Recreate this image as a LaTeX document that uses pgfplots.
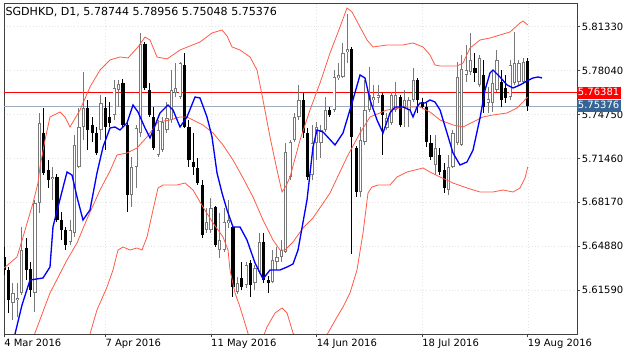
\documentclass[border=0pt]{standalone}
\usepackage{pgfplots}
\pgfplotsset{compat=1.18}
\usepackage{pgfplotstable}
\usepackage{fontspec}
\setmainfont{DejaVu Sans}
\definecolor{bandred}{RGB}{255,90,70}
\definecolor{mablue}{RGB}{0,0,255}
\definecolor{linered}{RGB}{255,0,0}
\definecolor{linegray}{RGB}{160,172,188}
\definecolor{boxblue}{RGB}{52,101,150}
\definecolor{bullgray}{RGB}{120,120,120}

\pgfplotstableread{
i o h l c
3 5.60624 5.62123 5.59350 5.61374
4 5.60849 5.62123 5.59575 5.60999
5 5.61374 5.66320 5.61224 5.64596
8 5.61374 5.68343 5.59950 5.68118
9 5.68118 5.74863 5.67369 5.74113
12 5.69917 5.70816 5.68343 5.70067
16 5.65196 5.66844 5.64971 5.66095
17 5.65870 5.73214 5.65570 5.72465
18 5.70816 5.75237 5.70741 5.73814
19 5.73814 5.77935 5.72839 5.75237
23 5.73589 5.76212 5.72839 5.75612
26 5.74713 5.77336 5.74338 5.76736
27 5.76586 5.77336 5.75312 5.77036
30 5.68718 5.71565 5.67818 5.70816
31 5.70816 5.73964 5.69242 5.73739
32 5.73364 5.80858 5.73064 5.80034
36 5.71715 5.74338 5.71565 5.73589
37 5.72090 5.74563 5.71940 5.74188
38 5.73589 5.75687 5.73364 5.74488
39 5.74338 5.78085 5.74113 5.76586
40 5.76362 5.78610 5.76062 5.76736
41 5.76062 5.78685 5.75912 5.78610
47 5.66095 5.67743 5.65870 5.66694
48 5.66095 5.68493 5.65870 5.67743
50 5.64596 5.67369 5.63996 5.65345
51 5.64596 5.67743 5.64446 5.66694
52 5.66619 5.68343 5.66245 5.66844
54 5.61449 5.62573 5.61299 5.62123
56 5.61973 5.63697 5.61748 5.63472
58 5.62123 5.63472 5.61598 5.63247
59 5.62947 5.65870 5.62797 5.65196
62 5.62198 5.64596 5.62123 5.63847
63 5.63697 5.64821 5.63097 5.64071
64 5.64071 5.65345 5.63697 5.64596
65 5.64446 5.72615 5.64371 5.71940
66 5.70067 5.72839 5.69842 5.72690
67 5.72839 5.74863 5.72690 5.74563
68 5.74563 5.76961 5.74338 5.75837
71 5.70217 5.73964 5.69842 5.72615
72 5.72615 5.74188 5.71341 5.73814
73 5.72615 5.73964 5.71491 5.73589
74 5.73589 5.76062 5.73439 5.75088
76 5.75088 5.78085 5.74938 5.77561
77 5.77486 5.78610 5.77336 5.77711
78 5.77561 5.80109 5.77486 5.79359
79 5.79434 5.82282 5.78610 5.79659
82 5.68943 5.73814 5.68568 5.72839
83 5.72690 5.77336 5.72465 5.75088
84 5.75088 5.78310 5.74938 5.76212
85 5.75837 5.76961 5.75312 5.76062
86 5.75987 5.76961 5.75612 5.76212
88 5.73739 5.74863 5.73589 5.74488
89 5.74113 5.76437 5.73964 5.76212
90 5.75088 5.77186 5.74938 5.76212
92 5.75312 5.76586 5.73814 5.75837
93 5.75088 5.76062 5.73814 5.75837
94 5.75837 5.78235 5.75687 5.77336
99 5.70966 5.73214 5.70217 5.72240
102 5.69092 5.71715 5.68718 5.70816
103 5.70816 5.73589 5.70741 5.73364
104 5.72615 5.78685 5.72465 5.77561
105 5.72465 5.79209 5.72390 5.78160
106 5.77711 5.79959 5.77186 5.78085
107 5.77935 5.80858 5.77711 5.78835
109 5.76961 5.79209 5.76811 5.78984
111 5.75612 5.76811 5.74863 5.75912
112 5.75612 5.78085 5.74938 5.77111
113 5.76586 5.79584 5.76437 5.78835
116 5.76062 5.78835 5.75837 5.78460
117 5.77111 5.80933 5.76961 5.78610
118 5.77186 5.78835 5.76961 5.78610
119 5.77186 5.78984 5.77111 5.78685
}\bulltab

\pgfplotstableread{
i o h l c
1 5.64071 5.64821 5.62723 5.63097
2 5.63097 5.63322 5.59875 5.60849
6 5.64746 5.65495 5.62348 5.63097
7 5.63172 5.63697 5.61074 5.61598
10 5.73364 5.75237 5.70217 5.70366
11 5.70591 5.71341 5.69242 5.69842
13 5.70067 5.70291 5.66694 5.66844
14 5.66844 5.67444 5.65345 5.66095
15 5.66095 5.66320 5.64596 5.64971
20 5.75237 5.75837 5.72090 5.73589
21 5.73964 5.74563 5.72690 5.73364
22 5.73364 5.73814 5.71715 5.71865
24 5.75237 5.76062 5.72090 5.73814
25 5.74563 5.75687 5.73814 5.74113
28 5.77111 5.77411 5.73814 5.73964
29 5.73964 5.74338 5.67444 5.68718
33 5.80034 5.80184 5.76586 5.76736
34 5.76586 5.77111 5.74563 5.74713
35 5.74563 5.75312 5.72090 5.72240
42 5.78460 5.79359 5.73739 5.73814
43 5.73814 5.74338 5.70816 5.71341
44 5.71191 5.73364 5.70217 5.70816
45 5.70741 5.71491 5.69467 5.69617
46 5.69467 5.69842 5.65495 5.65720
49 5.67818 5.67900 5.64821 5.64971
53 5.66320 5.66470 5.61074 5.61823
55 5.62498 5.63697 5.61598 5.61823
57 5.63622 5.63847 5.61074 5.61973
60 5.65196 5.65870 5.62123 5.62348
61 5.62348 5.62648 5.61374 5.62123
69 5.75837 5.76362 5.72989 5.73364
70 5.73364 5.73739 5.69842 5.70067
75 5.75088 5.75312 5.74563 5.74713
80 5.79659 5.79809 5.64296 5.73064
81 5.72240 5.72390 5.68568 5.68943
87 5.76212 5.76362 5.71715 5.74713
91 5.76062 5.76212 5.73814 5.73964
95 5.77336 5.77486 5.74863 5.75837
96 5.75687 5.75987 5.75237 5.75312
97 5.75312 5.75612 5.72315 5.72690
98 5.72615 5.73214 5.71341 5.71565
100 5.71715 5.72240 5.70217 5.70441
101 5.70591 5.71116 5.68868 5.69242
108 5.78235 5.79359 5.77186 5.77860
110 5.77711 5.78835 5.74863 5.75312
114 5.77186 5.78085 5.75312 5.75837
115 5.76736 5.77711 5.75612 5.75987
120 5.78744 5.78956 5.75048 5.75376
}\beartab

\pgfplotstableread{
i p
0.98 5.63247
3.93 5.64071
5.30 5.65570
7.57 5.68118
8.70 5.69617
9.16 5.70816
10.30 5.72839
11.43 5.74563
13.70 5.74938
14.84 5.74563
15.98 5.73814
18.25 5.75088
20.52 5.76811
22.80 5.78085
25.07 5.78835
27.34 5.79059
29.16 5.78984
31.43 5.79809
33.02 5.80558
34.16 5.80333
35.75 5.79059
38.02 5.78910
40.98 5.79584
43.25 5.79884
45.52 5.80184
48.25 5.80858
50.52 5.81083
51.66 5.80633
52.80 5.79809
54.61 5.79584
56.89 5.79059
58.48 5.78085
59.84 5.75837
61.43 5.73064
63.02 5.70591
64.16 5.68943
65.07 5.69392
65.98 5.70067
68.25 5.72839
70.52 5.75088
72.80 5.77111
75.07 5.79359
77.34 5.81308
78.93 5.82732
80.07 5.82432
81.89 5.81308
83.48 5.80333
84.84 5.79809
88.02 5.79959
91.66 5.79959
93.93 5.80109
96.20 5.79809
97.80 5.79209
98.93 5.78460
100.07 5.78385
103.93 5.78385
105.30 5.78610
106.89 5.79734
109.16 5.80333
111.43 5.80483
113.70 5.80708
115.98 5.80933
118.25 5.81607
118.93 5.81757
120.00 5.81458
}\uppertab

\pgfplotstableread{
i p
6.50 5.57400
8.02 5.58376
11.43 5.61374
15.30 5.63847
17.57 5.65121
19.84 5.66919
22.80 5.69092
25.07 5.70516
26.66 5.71715
28.93 5.71865
31.20 5.72240
33.48 5.73064
35.98 5.74188
38.70 5.74338
40.98 5.74563
42.57 5.74563
43.93 5.74338
46.20 5.73964
48.48 5.73364
50.75 5.72465
53.02 5.71341
55.30 5.69992
57.57 5.68568
59.84 5.66844
62.11 5.65345
63.70 5.64596
64.84 5.64596
66.66 5.65196
68.93 5.66245
71.20 5.66994
75.07 5.68868
78.93 5.71565
81.89 5.73364
84.16 5.74563
88.02 5.75088
92.57 5.75312
95.52 5.75312
97.80 5.74938
100.07 5.74338
103.02 5.73964
105.30 5.73814
107.57 5.74188
109.84 5.74563
112.11 5.74713
115.30 5.74863
117.57 5.75237
120.00 5.76062
}\middletab

\pgfplotstableread{
i p
19.39 5.57477
20.52 5.58301
22.11 5.60100
24.39 5.61823
25.75 5.63097
26.89 5.64596
28.02 5.64821
29.61 5.64596
31.20 5.64746
32.34 5.64596
33.48 5.65570
34.84 5.67594
35.98 5.69242
37.11 5.69467
40.30 5.69467
42.11 5.69617
43.93 5.69092
46.20 5.67818
48.48 5.66619
50.75 5.65570
51.89 5.64596
52.34 5.63097
53.48 5.61374
54.61 5.60324
56.20 5.58601
56.89 5.57851
58.02 5.57102
59.61 5.57851
60.75 5.58826
62.57 5.59875
64.16 5.60250
65.30 5.59875
66.66 5.58376
68.25 5.57477
72.80 5.57477
74.61 5.58376
76.66 5.59575
78.02 5.60324
79.61 5.61374
81.20 5.63097
82.57 5.65870
83.70 5.68868
84.61 5.69317
85.98 5.69467
88.70 5.69467
90.30 5.70067
92.57 5.70441
94.39 5.70591
96.20 5.70741
97.80 5.70441
100.07 5.70067
103.02 5.69617
106.20 5.69242
109.16 5.68943
112.11 5.68943
114.39 5.69092
116.66 5.68943
118.25 5.69242
119.39 5.69992
120.00 5.70816
}\lowertab

\pgfplotstableread{
i p
2.80 5.57477
3.48 5.58301
5.07 5.60474
6.89 5.62348
9.84 5.62498
11.43 5.63322
12.11 5.66320
13.25 5.67818
15.30 5.70441
16.43 5.70217
17.57 5.68568
18.93 5.66844
20.52 5.67594
22.11 5.70366
23.48 5.72315
25.07 5.73739
26.20 5.73814
27.34 5.73589
28.93 5.74113
30.30 5.75462
31.43 5.74938
33.02 5.73739
34.16 5.72989
36.43 5.74863
38.25 5.75462
39.39 5.75088
40.98 5.73814
42.57 5.74563
44.39 5.76062
45.52 5.75987
47.11 5.74563
48.25 5.73064
49.39 5.70366
50.52 5.68868
51.66 5.67594
53.02 5.66320
54.61 5.66320
56.20 5.65345
58.02 5.63622
59.84 5.62423
61.43 5.63097
63.70 5.63097
65.30 5.63322
66.66 5.63547
67.80 5.64596
69.84 5.68343
71.20 5.72315
72.11 5.73589
73.48 5.73439
76.20 5.72465
78.02 5.73364
80.07 5.75612
81.89 5.77711
83.02 5.77486
84.16 5.75837
85.75 5.74338
87.11 5.73364
88.70 5.74863
89.84 5.75312
91.66 5.75312
93.25 5.75088
93.93 5.74563
94.84 5.75312
95.52 5.75612
96.66 5.75612
97.80 5.75837
98.93 5.75687
100.07 5.75088
101.66 5.73364
103.02 5.71865
104.61 5.70966
106.20 5.71191
107.57 5.72090
109.16 5.74488
110.30 5.76586
111.43 5.77860
112.11 5.78085
113.70 5.77561
115.30 5.76961
116.66 5.76736
118.25 5.76961
119.84 5.77261
121.20 5.77486
122.34 5.77561
123.25 5.77486
}\matab

\pgfplotsset{
  candle/.style n args={2}{draw=none, mark=none, forget plot,
    error bars/.cd, y dir=both, y explicit, error mark=none,
    error bar style={draw=#1, solid, line width=#2}},
}

\begin{document}
\begin{tikzpicture}[font=\fontsize{7.5}{9}\selectfont]
\path[use as bounding box] (-3pt,-13.5pt) rectangle (465.75pt,250.5pt);
\begin{axis}[
  at={(0,0)}, anchor=south west,
  scale only axis, width=429.75pt, height=248.25pt,
  xmin=0.977, xmax=131.2, ymin=5.58301, ymax=5.83106,
  axis line style={black!75, line width=0.6pt},
  tick style={black!75, line width=0.5pt},
  tick align=outside,
  major tick length=2.5pt,
  xtick pos=left, ytick pos=right, yticklabel pos=right,
  xtick={0.977,24,48,72,96,120},
  xticklabels={4 Mar 2016,7 Apr 2016,11 May 2016,14 Jun 2016,18 Jul 2016,19 Aug 2016},
  ytick={5.61590,5.64880,5.68170,5.71460,5.74750,5.78040,5.81330},
  yticklabels={5.61590,5.64880,5.68170,5.71460,5.74750,5.78040,5.81330},
  xticklabel style={anchor=north west, inner sep=0pt, yshift=-1pt},
  yticklabel style={anchor=west, inner sep=0pt, xshift=1pt},
  grid=major, grid style={gray!22, dotted, line width=0.3pt},
  extra y ticks={5.76381,5.75376},
  extra y tick labels={{\setlength{\fboxsep}{1pt}\colorbox{linered}{\rule[-1.6pt]{0pt}{7.2pt}\textcolor{white}{5.76381}}},{\setlength{\fboxsep}{1pt}\colorbox{boxblue}{\rule[-1.6pt]{0pt}{7.2pt}\textcolor{white}{5.75376}}}},
  extra y tick style={grid=none, major tick length=0pt, yticklabel style={xshift=-1.5pt}},
]
% price lines
\addplot[linered, line width=0.6pt, mark=none] coordinates {(0.977,5.76381) (131.2,5.76381)};
\addplot[linegray, line width=0.6pt, mark=none] coordinates {(0.977,5.75376) (131.2,5.75376)};
% bull candles
\addplot[candle={bullgray}{0.75pt}]
  table[x=i, y expr={(\thisrow{h}+\thisrow{l})/2}, y error expr={(\thisrow{h}-\thisrow{l})/2}] {\bulltab};
\addplot[candle={bullgray}{2.4pt}]
  table[x=i, y expr={(\thisrow{o}+\thisrow{c})/2}, y error expr={max(abs(\thisrow{c}-\thisrow{o})/2,0.0004)}] {\bulltab};
\addplot[candle={white}{1.0pt}]
  table[x=i, y expr={(\thisrow{o}+\thisrow{c})/2}, y error expr={max(abs(\thisrow{c}-\thisrow{o})/2-0.0006,0)}] {\bulltab};
% bear candles
\addplot[candle={black}{0.75pt}]
  table[x=i, y expr={(\thisrow{h}+\thisrow{l})/2}, y error expr={(\thisrow{h}-\thisrow{l})/2}] {\beartab};
\addplot[candle={black}{2.4pt}]
  table[x=i, y expr={(\thisrow{o}+\thisrow{c})/2}, y error expr={max(abs(\thisrow{c}-\thisrow{o})/2,0.0004)}] {\beartab};
% Bollinger bands
\addplot[bandred, line width=0.6pt, mark=none] table[x=i, y=p] {\uppertab};
\addplot[bandred, line width=0.6pt, mark=none] table[x=i, y=p] {\middletab};
\addplot[bandred, line width=0.6pt, mark=none] table[x=i, y=p] {\lowertab};
% moving average
\addplot[mablue, line width=1pt, mark=none] table[x=i, y=p] {\matab};
\node[anchor=north west, inner sep=0pt, font=\fontsize{8.3}{10}\selectfont] at ([xshift=1pt,yshift=-3pt]rel axis cs:0,1) {SGDHKD, D1, 5.78744 5.78956 5.75048 5.75376};
\end{axis}
\end{tikzpicture}
\end{document}
